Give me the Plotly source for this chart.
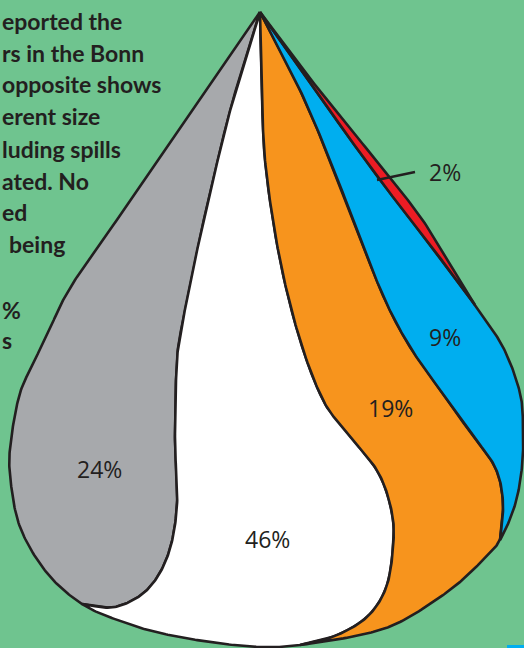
import numpy as np
import plotly.graph_objects as go

# ---------------- data ----------------
segment_names = ["Grey", "White", "Orange", "Blue", "Red"]
share_pct = [24, 46, 19, 9, 2]

intro_lines = ["eported the", "rs in the Bonn", "opposite shows", "erent size",
               "luding spills", "ated. No", "ed", "being", "%", "s"]

# ---------------- style / geometry ----------------
BG = "#6fc48f"
INK = "#231f20"
SEG_COLORS = ["#a7a9ac", "#ffffff", "#f7941d", "#00aeef", "#ed1c24"]
W, H = 524, 648

APEX = (260, 12)
OUTLINE = [APEX, (145, 180), (75, 280), (50, 328), (35, 360), (20, 393), (11, 440),
           (10, 475), (20, 527), (47, 573), (82, 604), (120, 621), (160, 633), (210, 642),
           (260, 647), (300, 645), (360, 635), (400, 622), (450, 590), (483, 560),
           (500, 540), (515, 505), (522, 467), (523, 430), (520, 393), (503, 347),
           (475, 305), (428, 228), (388, 175), (323, 95), APEX]
DIVIDERS = [
    [APEX, (233, 100), (213, 180), (195, 260), (183, 320), (177, 360), (175, 440),
     (177, 505), (168, 555), (147, 590), (115, 607), (82, 604)],
    [APEX, (262, 100), (266, 170), (280, 260), (300, 340), (323, 400), (347, 433),
     (378, 472), (392, 513), (393, 548), (386, 588), (367, 617), (335, 636), (300, 645)],
    [APEX, (300, 90), (332, 165), (360, 238), (385, 300), (410, 347), (440, 390),
     (470, 432), (495, 467), (503, 502), (500, 540)],
    [APEX, (320, 97), (380, 180), (423, 235), (449, 270), (475, 305)],
]
LABEL_POS = [(99, 469), (267, 539), (390, 408), (445, 337), (445, 172)]
LEADER = [(377, 180), (415, 172)]
INTRO_SHIFT = [0, 0, 0, 0, 0, 0, 0, 7, 0, 0]
INTRO_Y = [21, 53, 84, 116, 149, 181, 212, 244, 310, 340]


def catmull(pts, n=24):
    P = np.array(pts, float)
    P = np.vstack([P[0], P, P[-1]])
    out = []
    t = np.linspace(0, 1, n, endpoint=False)[:, None]
    for i in range(1, len(P) - 2):
        p0, p1, p2, p3 = P[i - 1], P[i], P[i + 1], P[i + 2]
        out.append(0.5 * (2 * p1 + (-p0 + p2) * t + (2 * p0 - 5 * p1 + 4 * p2 - p3) * t ** 2
                          + (-p0 + 3 * p1 - 3 * p2 + p3) * t ** 3))
    out.append(P[-2][None])
    return np.vstack(out)


outline = catmull(OUTLINE)
divs = [catmull(d) for d in DIVIDERS]
junc = [0]
for d in divs:
    end = d[-1]
    junc.append(int(np.argmin(((outline - end) ** 2).sum(axis=1))))
junc.append(len(outline) - 1)
apex_arr = np.array([APEX], float)
paths = [apex_arr] + divs + [apex_arr]

fig = go.Figure()
for k, (name, val) in enumerate(zip(segment_names, share_pct)):
    poly = np.vstack([paths[k], outline[junc[k]:junc[k + 1] + 1], paths[k + 1][::-1]])
    fig.add_trace(go.Scatter(
        x=poly[:, 0], y=poly[:, 1], mode="lines", fill="toself",
        fillcolor=SEG_COLORS[k], line=dict(color=INK, width=2.6),
        name=name, hoverinfo="skip", showlegend=False))

# leader line for smallest segment
fig.add_trace(go.Scatter(x=[p[0] for p in LEADER], y=[p[1] for p in LEADER], mode="lines",
                         line=dict(color=INK, width=2.4), hoverinfo="skip", showlegend=False))

for (x, y), val in zip(LABEL_POS, share_pct):
    fig.add_annotation(x=x, y=y, text=f"{val}%", showarrow=False,
                       font=dict(family="Open Sans, Liberation Sans, sans-serif", size=23, color=INK),
                       xanchor="center", yanchor="middle")

for txt, dx, y in zip(intro_lines, INTRO_SHIFT, INTRO_Y):
    fig.add_annotation(x=0, y=y, xshift=dx, text=f"<b>{txt}</b>", showarrow=False,
                       font=dict(family="Lato, sans-serif", size=23, color=INK),
                       xanchor="left", yanchor="middle", xref="x", yref="y")

fig.add_shape(type="rect", x0=507, x1=524, y0=645, y1=648, fillcolor="#00aeef", line_width=0)

fig.update_layout(
    width=W, height=H, margin=dict(l=0, r=0, t=0, b=0),
    paper_bgcolor=BG, plot_bgcolor=BG,
    xaxis=dict(range=[0, W], visible=False, fixedrange=True),
    yaxis=dict(range=[H, 0], visible=False, fixedrange=True),
)
fig.write_html("out.html", config={"displayModeBar": False},
               post_script="document.body.style.margin='0px';document.body.style.overflow='hidden';")
